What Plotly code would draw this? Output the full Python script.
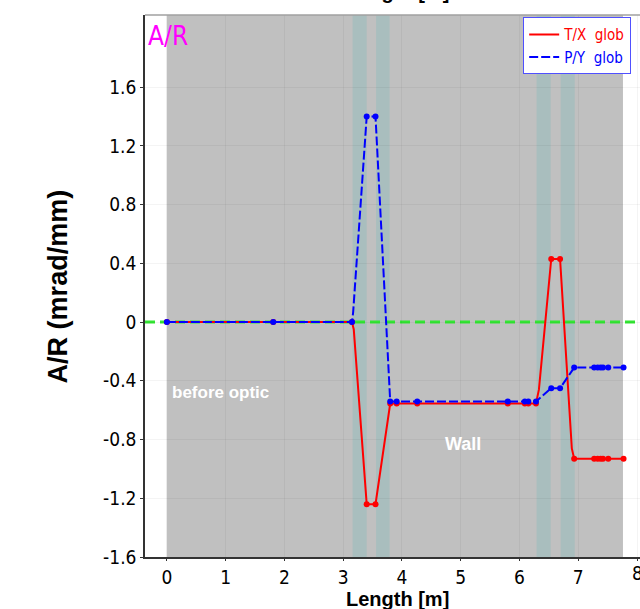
import plotly.graph_objects as go

# ---- data ----
tx_x = [0, 1.81, 3.15, 3.18, 3.40, 3.55, 3.80, 3.91, 4.26, 5.80, 6.09, 6.15, 6.28,
        6.33, 6.54, 6.69, 6.89, 6.93, 7.27, 7.33, 7.38, 7.42, 7.51, 7.77]
tx_y = [0, 0, 0, -0.05, -1.24, -1.24, -0.555, -0.555, -0.555, -0.555, -0.555, -0.555, -0.555,
        -0.46, 0.43, 0.43, -0.86, -0.93, -0.93, -0.93, -0.93, -0.93, -0.93, -0.93]
tx_unmarked = [3.18, 6.33, 6.89]

py_x = [0, 1.81, 3.15, 3.17, 3.40, 3.55, 3.80, 3.91, 4.26, 5.80, 6.09, 6.15, 6.28,
        6.54, 6.69, 6.93, 7.27, 7.33, 7.38, 7.42, 7.51, 7.77]
py_y = [0, 0, 0, 0.07, 1.40, 1.40, -0.54, -0.54, -0.54, -0.54, -0.54, -0.54, -0.54,
        -0.45, -0.45, -0.31, -0.31, -0.31, -0.31, -0.31, -0.31, -0.31]
py_unmarked = [3.17]

region_gray = [0.0, 7.76]
teal_bands = [(3.16, 3.40), (3.56, 3.79), (6.29, 6.53), (6.70, 6.94)]

x_ticks = [0, 1, 2, 3, 4, 5, 6, 7, 8]
y_tickvals = [-1.6, -1.2, -0.8, -0.4, 0, 0.4, 0.8, 1.2, 1.6]
y_ticktext = ["-1.6", "-1.2", "-0.8", "-0.4", "0", "0.4", "0.8", "1.2", "1.6"]

NARROW = "Liberation Sans Narrow, Arial Narrow, DejaVu Sans Condensed, sans-serif"
BOLD = "Liberation Sans, Arial, sans-serif"

fig = go.Figure()


def add_series(xs, ys, unmarked, color, label, dash):
    fig.add_trace(go.Scatter(
        x=xs, y=ys, mode="lines", name=label,
        line=dict(color=color, width=2, dash=dash),
    ))
    mx = [x for x in xs if x not in unmarked]
    my = [y for x, y in zip(xs, ys) if x not in unmarked]
    fig.add_trace(go.Scatter(
        x=mx, y=my, mode="markers", showlegend=False,
        marker=dict(color=color, size=6),
    ))


add_series(tx_x, tx_y, tx_unmarked, "#ff0000",
           "<span style='color:#ff0000'>T/X&nbsp;&nbsp;glob</span>", "solid")
add_series(py_x, py_y, py_unmarked, "#0000ff",
           "<span style='color:#0000ff'>P/Y&nbsp;&nbsp;glob</span>", "9px,3px")

shapes = []
shapes.append(dict(type="rect", xref="x", yref="paper", x0=region_gray[0], x1=region_gray[1],
                   y0=0, y1=1, fillcolor="#c0c0c0", line=dict(width=0), layer="below"))
for a, b in teal_bands:
    shapes.append(dict(type="rect", xref="x", yref="paper", x0=a, x1=b, y0=0, y1=1,
                       fillcolor="#a9bebe", line=dict(width=0), layer="below"))
shapes.append(dict(type="line", xref="paper", yref="y", x0=0, x1=1, y0=0, y1=0,
                   line=dict(color="#33e633", width=3, dash="10px,5px"), layer="between"))
shapes.append(dict(type="line", xref="paper", yref="paper", x0=0, x1=1, y0=1, y1=1,
                   line=dict(color="#a0a0a0", width=1.5), layer="above"))

# the last x tick label sits on the page edge; draw the edge ones as text at the tick
last_tick = x_ticks[-1]
x_ticktext = [str(v) if v != last_tick else "" for v in x_ticks]

annotations = [
    dict(text="A/R", xref="paper", yref="paper", x=0.002, y=0.993, xanchor="left", yanchor="top",
         showarrow=False, font=dict(family=NARROW, size=26, color="#ff00ff")),
    dict(text="<b>before optic</b>", xref="x", yref="y", x=0.06, y=-0.48, xanchor="left",
         yanchor="middle", showarrow=False, font=dict(family=BOLD, size=17, color="white")),
    dict(text="<b>Wall</b>", xref="x", yref="y", x=5.04, y=-0.83, xanchor="center",
         yanchor="middle", showarrow=False, font=dict(family=BOLD, size=18, color="white")),
    dict(text="<b>A/R (mrad/mm)</b>", xref="paper", yref="paper", x=-0.175, y=0.5,
         xanchor="center", yanchor="middle", textangle=-90, showarrow=False,
         font=dict(family=BOLD, size=27, color="black")),
    dict(text="<b>Length [m]</b>", xref="paper", yref="paper", x=0.51, y=0, yshift=-29,
         xanchor="center", yanchor="top", showarrow=False,
         font=dict(family=BOLD, size=20, color="black")),
    dict(text="<b>Length [m]</b>", xref="paper", yref="paper", x=0.51, y=1, yshift=10,
         xanchor="center", yanchor="bottom", showarrow=False,
         font=dict(family=BOLD, size=20, color="black")),
    dict(text=str(last_tick), xref="x", yref="paper", x=last_tick, y=0, yshift=-3,
         xanchor="center", yanchor="top", showarrow=False,
         font=dict(family=NARROW, size=19, color="black")),
]

fig.update_layout(
    width=640, height=609,
    margin=dict(l=145, r=0, t=15, b=52),
    paper_bgcolor="white", plot_bgcolor="white",
    shapes=shapes, annotations=annotations,
    showlegend=True,
    legend=dict(x=0.764, y=0.996, xanchor="left", yanchor="top",
                bgcolor="white", bordercolor="#5050ff", borderwidth=1,
                font=dict(family=NARROW, size=15), tracegroupgap=0, itemwidth=30),
    xaxis=dict(range=[-0.372, 8.05], tickvals=x_ticks, ticktext=x_ticktext,
               showgrid=True, gridcolor="rgba(0,0,0,0.045)", zeroline=False,
               showline=True, linecolor="#333333", linewidth=1.5,
               ticks="outside", ticklen=2, tickcolor="#333333",
               tickfont=dict(family=NARROW, size=19, color="black")),
    yaxis=dict(range=[-1.6, 2.092], tickvals=y_tickvals, ticktext=y_ticktext,
               showgrid=True, gridcolor="rgba(0,0,0,0.045)", zeroline=False,
               showline=True, linecolor="#333333", linewidth=1.5,
               ticks="outside", ticklen=3, tickcolor="#333333",
               tickfont=dict(family=NARROW, size=19, color="black")),
)

fig.write_html("out.html")
